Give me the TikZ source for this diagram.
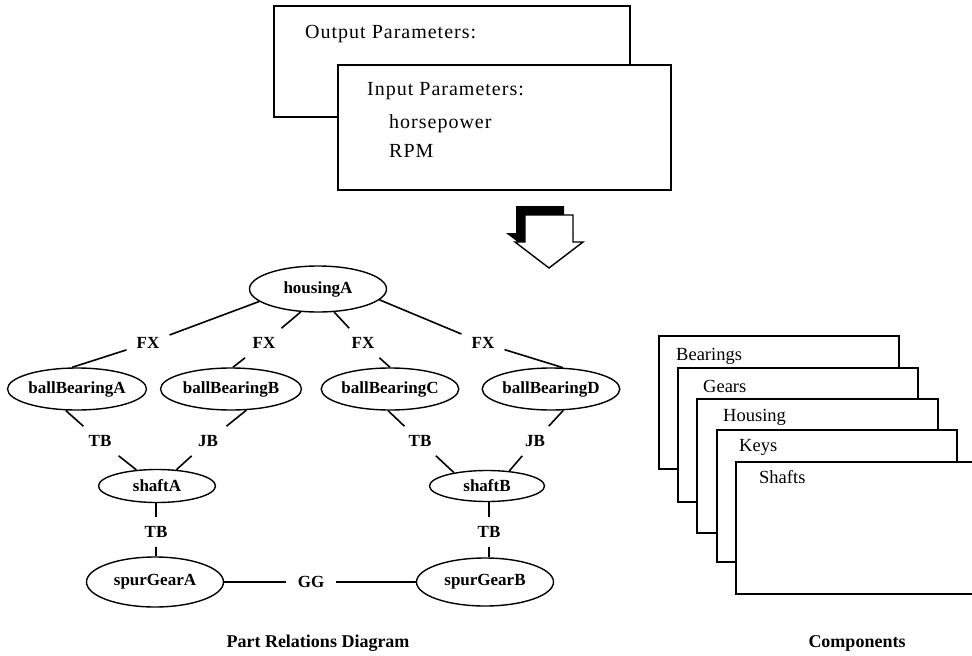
\documentclass[tikz,border=0pt]{standalone}
\usepackage{fontspec}
\setmainfont{Liberation Serif}
\newfontfamily\spacedserif[LetterSpace=5]{Liberation Serif}
\usetikzlibrary{shapes.geometric}
\begin{document}
\begin{tikzpicture}[x=1pt,y=-1pt,line join=miter,
  ell/.style={draw, ellipse, line width=1.4pt, inner sep=0pt, font=\fontsize{17}{19}\selectfont\bfseries},
  rel/.style={inner xsep=10pt, inner ysep=9pt, font=\fontsize{17}{19}\selectfont\bfseries},
  con/.style={line width=1.6pt},
  ptext/.style={font=\fontsize{20}{22}\spacedserif, anchor=base west, inner sep=0pt},
  ctext/.style={font=\fontsize{18.5}{20}\selectfont, anchor=base west, inner sep=0pt},
  captext/.style={font=\fontsize{18}{20}\selectfont\bfseries, inner sep=0pt},
  box/.style={draw, fill=white, line width=1.4pt},
]
\useasboundingbox (0,0) rectangle (972,656);

% parameter boxes
\draw[box] (274,6) rectangle (630,117);
\node[ptext] (outp) at (305,38) {Output Parameters:};
\draw[box] (338,65) rectangle (671,190);
\node[ptext] (inp) at (367,95) {Input Parameters:};
\node[ptext] (hp) at (389,128) {horsepower};
\node[ptext] (rpm) at (389,157) {RPM};

% block arrow with shadow
\fill[black] (516,206) -- (564,206) -- (564,233) -- (574,233) -- (540,259) -- (506,233) -- (516,233) -- cycle;
\draw[fill=white, line width=1.4pt] (525,215) -- (573,215) -- (573,242) -- (583,242) -- (549,268) -- (515,242) -- (525,242) -- cycle;

% part relations
\node[ell, minimum width=137pt, minimum height=46pt] (housingA) at (318,289) {housingA};
\node[ell, minimum width=139pt, minimum height=42pt] (bbA) at (77,389) {ballBearingA};
\node[ell, minimum width=141pt, minimum height=42pt] (bbB) at (231,389) {ballBearingB};
\node[ell, minimum width=130pt, minimum height=42pt] (bbC) at (390,389) {ballBearingC};
\node[ell, minimum width=137pt, minimum height=42pt] (bbD) at (551,389) {ballBearingD};
\node[ell, minimum width=117pt, minimum height=33pt] (shaftA) at (157,486) {shaftA};
\node[ell, minimum width=115pt, minimum height=31pt] (shaftB) at (487,486) {shaftB};
\node[ell, minimum width=137pt, minimum height=50pt] (spurA) at (155,582) {spurGearA};
\node[ell, minimum width=137pt, minimum height=48pt] (spurB) at (485,582) {spurGearB};

\node[rel] (fx1) at (148,343) {FX};
\node[rel] (fx2) at (264,343) {FX};
\node[rel] (fx3) at (363,343) {FX};
\node[rel] (fx4) at (483,343) {FX};
\node[rel] (tb1) at (100,441) {TB};
\node[rel] (jb1) at (208,441) {JB};
\node[rel] (tb2) at (420,441) {TB};
\node[rel] (jb2) at (535,441) {JB};
\node[rel] (tb3) at (156,532) {TB};
\node[rel] (tb4) at (489,532) {TB};
\node[rel, inner xsep=12pt] (gg) at (311,582) {GG};

\draw[con] (housingA.192) -- (fx1) -- (bbA.103);
\draw[con] (housingA.233) -- (fx2) -- (bbB.85);
\draw[con] (housingA.305) -- (fx3) -- (bbC.90);
\draw[con] (housingA.350) -- (fx4) -- (bbD.61);
\draw[con] (bbA.242) -- (tb1) -- (shaftA.142);
\draw[con] (bbB.306) -- (jb1) -- (shaftA.40);
\draw[con] (bbC.265) -- (tb2) -- (shaftB.158);
\draw[con] (bbD.300) -- (jb2) -- (shaftB.34);
\draw[con] (shaftA.south -| tb3) -- (tb3) -- (tb3 |- spurA.north);
\draw[con] (shaftB.south -| tb4) -- (tb4) -- (tb4 |- spurB.north);
\draw[con] (spurA) -- (gg) -- (spurB);

% components
\draw[box] (659,336) rectangle (899,469);
\node[ctext] (bearings) at (676,360) {Bearings};
\draw[box] (678,368) rectangle (918,502);
\node[ctext] (gears) at (703,392) {Gears};
\draw[box] (697,399) rectangle (938,533);
\node[ctext] (housing) at (723,421) {Housing};
\draw[box] (717,430) rectangle (957,562);
\node[ctext] (keys) at (739,451) {Keys};
\draw[box] (736,462) rectangle (990,594);
\node[ctext] (shafts) at (759,483) {Shafts};

% captions
\node[captext] (cap1) at (318,643) {Part Relations Diagram};
\node[captext] (cap2) at (857,643) {Components};
\end{tikzpicture}
\end{document}
